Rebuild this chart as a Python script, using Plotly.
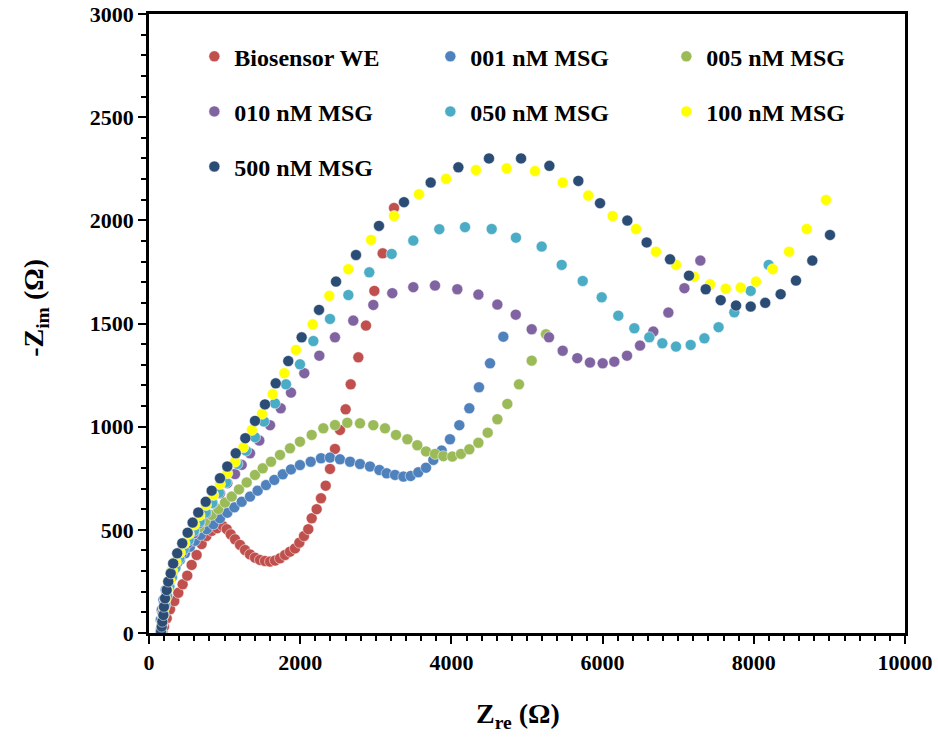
import plotly.graph_objects as go

# ---------------- data ----------------
names = ["Biosensor WE", "001 nM MSG", "005 nM MSG", "010 nM MSG",
         "050 nM MSG", "100 nM MSG", "500 nM MSG"]
colors = ["#C0504D", "#4F81BD", "#9BBB59", "#8064A2", "#4BACC6", "#FFFF00", "#2B4C74"]

we_x = [181, 198, 234, 278, 335, 388, 445, 506, 564, 630, 696, 760, 830, 902, 975, 1028, 1081,
        1138, 1204, 1270, 1336, 1402, 1468, 1534, 1601, 1667, 1733, 1799, 1865, 1931, 1989, 2050,
        2107, 2152, 2218, 2275, 2337, 2394, 2460, 2526, 2601, 2668, 2769, 2870, 2981, 3091, 3241]
we_y = [6, 31, 71, 115, 155, 195, 236, 278, 330, 378, 431, 470, 495, 508, 519, 503, 478,
        454, 427, 402, 381, 365, 354, 349, 346, 351, 362, 378, 394, 410, 438, 470,
        503, 556, 600, 653, 714, 795, 892, 984, 1084, 1205, 1336, 1490, 1658, 1840, 2060]

n001_x = [155, 155, 168, 190, 220, 255, 300, 344, 410, 476, 542, 608, 684, 763, 851, 939, 1036,
          1129, 1226, 1336, 1437, 1548, 1658, 1769, 1878, 1997, 2139, 2275, 2394, 2526, 2659,
          2791, 2923, 3047, 3144, 3254, 3365, 3461, 3562, 3664, 3761, 3871, 3981, 4105, 4237,
          4365, 4511, 4687]
n001_y = [15, 63, 111, 160, 208, 249, 289, 321, 354, 386, 418, 447, 475, 503, 527, 556, 583,
          609, 636, 661, 690, 717, 742, 769, 793, 814, 830, 847, 850, 842, 830,
          819, 807, 790, 774, 766, 758, 761, 779, 801, 839, 884, 939, 1007, 1089,
          1191, 1307, 1436]

n005_x = [165, 170, 185, 205, 230, 265, 300, 344, 400, 454, 520, 590, 665, 741, 829, 917, 1005,
          1094, 1190, 1292, 1402, 1504, 1614, 1733, 1865, 1997, 2152, 2306, 2460, 2623, 2791,
          2967, 3122, 3267, 3417, 3549, 3664, 3783, 3893, 4012, 4127, 4237, 4357, 4480, 4608,
          4740, 4894, 5062, 5251]
n005_y = [5, 50, 100, 150, 200, 250, 300, 346, 383, 418, 451, 483, 512, 543, 572, 601, 632,
          661, 696, 730, 766, 798, 830, 863, 895, 927, 960, 992, 1008, 1019, 1016,
          1007, 992, 960, 939, 910, 880, 868, 857, 855, 868, 890, 922, 971, 1036,
          1110, 1205, 1320, 1448]

n010_x = [159, 168, 181, 203, 234, 265, 308, 366, 432, 511, 590, 665, 754, 842, 939, 1036, 1138,
          1226, 1336, 1459, 1601, 1742, 1878, 2054, 2253, 2460, 2702, 2967, 3218, 3496, 3783,
          4078, 4357, 4608, 4851, 5062, 5291, 5472, 5665, 5833, 6001, 6155, 6323, 6495, 6671,
          6870, 7082, 7293]
n010_y = [6, 47, 95, 144, 192, 241, 289, 337, 386, 435, 483, 532, 580, 629, 677, 726, 770,
          815, 871, 933, 1007, 1089, 1165, 1259, 1344, 1433, 1514, 1590, 1647, 1676, 1684,
          1666, 1640, 1592, 1543, 1472, 1433, 1368, 1332, 1311, 1307, 1315, 1344, 1393, 1461,
          1553, 1671, 1805]

n050_x = [170, 180, 195, 215, 240, 270, 305, 350, 400, 460, 525, 595, 670, 750, 835, 925, 1020,
          1170, 1283, 1402, 1521, 1667, 1812, 1997, 2174, 2394, 2637, 2914, 3210, 3496, 3840,
          4180, 4533, 4854, 5194, 5459, 5737, 5988, 6208, 6420, 6618, 6790, 6971, 7165, 7347,
          7534, 7742, 7959, 8197]
n050_y = [5, 45, 90, 135, 180, 225, 270, 315, 360, 405, 450, 495, 540, 585, 630, 680, 730,
          820, 884, 949, 1025, 1113, 1205, 1302, 1415, 1522, 1638, 1748, 1837, 1902, 1957,
          1967, 1958, 1916, 1873, 1784, 1706, 1627, 1538, 1477, 1433, 1404, 1388, 1396, 1428,
          1482, 1554, 1658, 1784]

n100_x = [160, 170, 185, 200, 220, 245, 275, 310, 355, 410, 470, 530, 600, 670, 754, 851, 939,
          1036, 1138, 1248, 1362, 1495, 1636, 1790, 1944, 2165, 2385, 2637, 2937, 3241, 3571,
          3929, 4325, 4731, 5106, 5472, 5811, 6133, 6442, 6706, 6971, 7209, 7421, 7628, 7826,
          8029, 8250, 8466, 8700, 8955]
n100_y = [5, 40, 80, 120, 165, 210, 255, 300, 345, 390, 435, 480, 525, 570, 620, 669, 722,
          774, 830, 900, 984, 1062, 1158, 1259, 1372, 1496, 1634, 1763, 1905, 2021, 2127,
          2201, 2244, 2252, 2239, 2183, 2120, 2021, 1958, 1848, 1784, 1727, 1690, 1669, 1674,
          1703, 1763, 1848, 1958, 2099]

n500_x = [159, 168, 176, 190, 198, 212, 234, 255, 287, 320, 373, 440, 511, 577, 652, 750, 829,
          939, 1036, 1147, 1274, 1402, 1534, 1676, 1842, 2019, 2249, 2474, 2738, 3042, 3373,
          3726, 4092, 4497, 4921, 5296, 5679, 5966, 6327, 6583, 6892, 7143, 7364, 7562, 7765,
          7959, 8151, 8355, 8558, 8774, 9008]
n500_y = [6, 31, 55, 87, 127, 168, 208, 249, 289, 337, 386, 435, 486, 535, 584, 636, 690,
          750, 807, 871, 944, 1028, 1108, 1210, 1318, 1433, 1566, 1703, 1832, 1973, 2088,
          2183, 2257, 2300, 2300, 2264, 2191, 2083, 1999, 1893, 1811, 1732, 1666, 1613, 1587,
          1582, 1600, 1642, 1708, 1805, 1929]

xs = [we_x, n001_x, n005_x, n010_x, n050_x, n100_x, n500_x]
ys = [we_y, n001_y, n005_y, n010_y, n050_y, n100_y, n500_y]
legend_ids = ["legend", "legend", "legend", "legend2", "legend2", "legend2", "legend3"]

x_ticks = [0, 2000, 4000, 6000, 8000, 10000]
y_ticks = [0, 500, 1000, 1500, 2000, 2500, 3000]
x_title = "Z<sub>re</sub> (Ω)"
y_title = "-Z<sub>im</sub> (Ω)"

# ---------------- figure ----------------
FONT = "Liberation Serif"
fig = go.Figure()
for name, col, x, y, lg in zip(names, colors, xs, ys, legend_ids):
    fig.add_trace(go.Scatter(
        x=x, y=y, mode="markers", name=name, legend=lg,
        marker=dict(color=col, size=11, line=dict(color="white", width=0.5)),
    ))

legend_common = dict(
    orientation="h", xanchor="left", yanchor="middle",
    font=dict(family=FONT, size=24, color="black", weight="bold"),
    bgcolor="rgba(0,0,0,0)", borderwidth=0, entrywidth=191, entrywidthmode="pixels",
    itemwidth=30,
)
fig.update_layout(
    width=938, height=738,
    margin=dict(l=149, r=33, t=14, b=105),
    plot_bgcolor="white", paper_bgcolor="white",
    font=dict(family=FONT, size=22, color="black"),
    showlegend=True,
    legend=dict(x=0.06, y=0.931, **legend_common),
    legend2=dict(x=0.06, y=0.842, **legend_common),
    legend3=dict(x=0.06, y=0.753, **legend_common),
    annotations=[
        dict(text=x_title, xref="paper", yref="paper", x=0.488, y=-0.134,
             xanchor="center", yanchor="middle", showarrow=False,
             font=dict(family=FONT, size=28, color="black", weight="bold")),
        dict(text=y_title, xref="paper", yref="paper", x=-0.151, y=0.525,
             xanchor="center", yanchor="middle", showarrow=False, textangle=-90,
             font=dict(family=FONT, size=28, color="black", weight="bold")),
    ],
)
axis_common = dict(
    showgrid=False, zeroline=False, showline=True, linecolor="black", linewidth=2.5,
    mirror=True, ticks="outside", ticklen=8, tickwidth=2, tickcolor="black",
    automargin=False, ticklabeloverflow="allow",
    tickfont=dict(family=FONT, size=22, color="black", weight="bold"),
)
fig.update_xaxes(
    range=[0, 10000], tickvals=x_ticks, ticktext=[str(v) for v in x_ticks],
    minor=dict(dtick=200, ticks="outside", ticklen=5, tickwidth=1.5, tickcolor="black"),
    **axis_common,
)
fig.update_yaxes(
    range=[0, 3000], tickvals=y_ticks, ticktext=[str(v) for v in y_ticks],
    minor=dict(dtick=100, ticks="outside", ticklen=5, tickwidth=1.5, tickcolor="black"),
    **axis_common,
)

fig.write_html("out.html", config={"displayModeBar": False},
               post_script="document.body.style.margin='0';")
